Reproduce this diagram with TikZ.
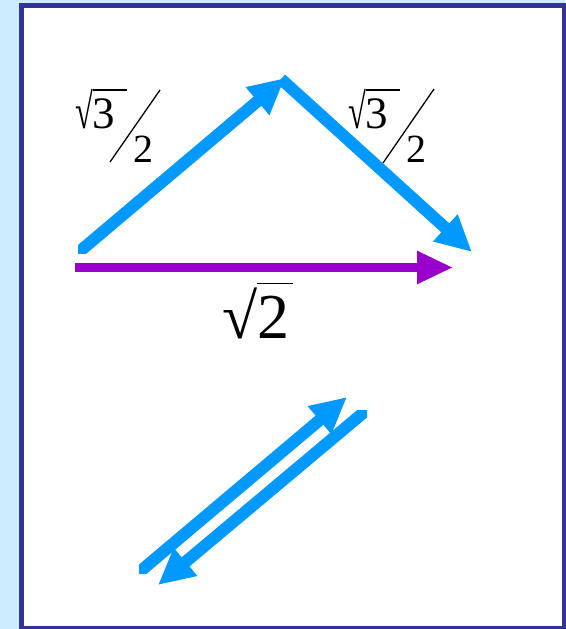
\documentclass[tikz,border=0pt]{standalone}
\usepackage{fontspec}
\usepackage{graphicx}
\setmainfont{Liberation Serif}
\usetikzlibrary{arrows.meta}
\definecolor{bgblue}{HTML}{CCECFF}
\definecolor{frameblue}{HTML}{333399}
\definecolor{arrblue}{HTML}{0099FF}
\definecolor{arrpurple}{HTML}{9900CC}
\begin{document}
\begin{tikzpicture}[x=1pt,y=-1pt,
  bluearrow/.style={draw=arrblue, line width=12pt, -{Triangle[length=36pt,width=34pt]}},
  purplearrow/.style={draw=arrpurple, line width=8.5pt, -{Triangle[length=36pt,width=31pt]}},
  rad/.style={inner sep=0pt, anchor=base west, font=\fontsize{45}{45}\selectfont},
  den/.style={inner sep=0pt, anchor=base west, font=\fontsize{40}{40}\selectfont},
  big/.style={inner sep=0pt, anchor=base west, font=\fontsize{64}{64}\selectfont},
  slash/.style={draw=black, line width=1.3pt}]
\useasboundingbox (0,0) rectangle (565,629);
\fill[bgblue] (0,0) rectangle (565,629);
\draw[frameblue, line width=5pt, fill=white] (21.5,5) rectangle (564.5,628.5);
% coordinates
\coordinate (a1s) at (76,254.5);
\coordinate (a1e) at (285,78);
\coordinate (a2s) at (281,79);
\coordinate (a2e) at (472,252);
\coordinate (ps) at (75,267.5);
\coordinate (pe) at (453,267.5);
\coordinate (bAs) at (137,574);
\coordinate (bAe) at (347,397);
\coordinate (bBs) at (369,408);
\coordinate (bBe) at (158,585);
% arrows
\begin{scope}
  \clip (78,0) rectangle (565,253);
  \draw[bluearrow] (a1s) -- (a1e);
\end{scope}
\draw[bluearrow] (a2s) -- (a2e);
\draw[purplearrow] (ps) -- (pe);
\begin{scope}
  \clip (139,0) rectangle (565,573);
  \draw[bluearrow] (bAs) -- (bAe);
\end{scope}
\begin{scope}
  \clip (0,410) rectangle (367,629);
  \draw[bluearrow] (bBs) -- (bBe);
\end{scope}
% labels
\node[rad] (n1) at (75,128) {\scalebox{0.72}[1.1]{√}\rlap{\rule[37.5pt]{34pt}{1.2pt}}3};
\coordinate (s1a) at (160,90);
\coordinate (s1b) at (110,162);
\draw[slash] (s1a) -- (s1b);
\node[den] (d1) at (133,162) {2};
\node[rad] (n2) at (348,128) {\scalebox{0.72}[1.1]{√}\rlap{\rule[37.5pt]{34pt}{1.2pt}}3};
\coordinate (s2a) at (434,89);
\coordinate (s2b) at (383,163);
\draw[slash] (s2a) -- (s2b);
\node[den] (d2) at (406,162) {2};
\node[big] (n3) at (222,338) {√\rlap{\rule[54pt]{36pt}{1.5pt}}2};
\end{tikzpicture}
\end{document}
